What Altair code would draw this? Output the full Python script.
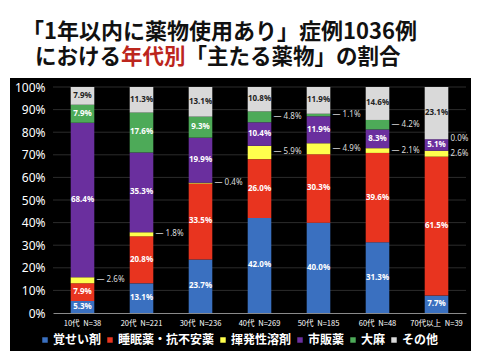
import altair as alt
import pandas as pd

ages = ["10代", "20代", "30代", "40代", "50代", "60代", "70代以上"]
ns = [38, 221, 236, 269, 185, 48, 39]
cats = ["覚せい剤", "睡眠薬・抗不安薬", "揮発性溶剤", "市販薬", "大麻", "その他"]
colors = ["#3A70C0", "#E8341F", "#FFFF4D", "#6A2F9E", "#4DAA58", "#D9D9D9"]

stimulants = [5.3, 13.1, 23.7, 42.0, 40.0, 31.3, 7.7]
sleeping = [7.9, 20.8, 33.5, 26.0, 30.3, 39.6, 61.5]
volatile = [2.6, 1.8, 0.4, 5.9, 4.9, 2.1, 2.6]
otc = [68.4, 35.3, 19.9, 10.4, 11.9, 8.3, 5.1]
cannabis = [7.9, 17.6, 9.3, 4.8, 1.1, 4.2, 0.0]
others = [7.9, 11.3, 13.1, 10.8, 11.9, 14.6, 23.1]

title1 = "「1年以内に薬物使用あり」症例1036例"
title2a = "における"
title2b = "年代別"
title2c = "「主たる薬物」の割合"

grid_vals = [0.1, 0.2, 0.3, 0.4, 0.5, 0.6, 0.7, 0.8, 0.9, 1.0]
tick_vals = [0.0] + grid_vals

series = [stimulants, sleeping, volatile, otc, cannabis, others]
labels = [f"{a}\u2002N={n}" for a, n in zip(ages, ns)]
rows = []
for ci, (c, vals) in enumerate(zip(cats, series)):
    for a, v in zip(labels, vals):
        rows.append({"age": a, "cat": c, "idx": ci, "v": v})
df = pd.DataFrame(rows)

JP = "Noto Sans CJK JP"
one = alt.Data(values=[{}])

xenc = alt.X("age:N", sort=labels, title=None,
             scale=alt.Scale(paddingInner=0.6, paddingOuter=0.3),
             axis=alt.Axis(labelAngle=0, labelColor="white", labelFont=JP,
                           labelFontSize=7.5, labelPadding=6, ticks=False,
                           domainColor="#8a8a8a", domainWidth=1, zindex=1))
yscale = alt.Scale(domain=[0, 1], nice=False)
yaxis = alt.Axis(format=".0%", values=tick_vals,
                 labelColor="white", labelFont="Noto Sans",
                 labelFontSize=12, labelPadding=8, domain=False,
                 ticks=False, grid=False, zindex=1, labelOverlap=False)

bg = alt.Chart(one).mark_rect(color="black").encode(
    x=alt.value(-43), x2=alt.value(418), y=alt.value(-9), y2=alt.value(264))

def title_text(txt, x, y, color, size=21.5):
    return alt.Chart(one).mark_text(
        text=txt, align="left", baseline="middle", font=JP, fontSize=size,
        fontWeight="bold", color=color).encode(x=alt.value(x), y=alt.value(y))

t1 = title_text(title1, -31, -55, "#111111", 22)
t2 = title_text(title2a, -18, -29, "#111111")
t3 = title_text(title2b, 68, -29, "#BC261D")
t4 = title_text(title2c, 132.5, -29, "#111111")

grid = alt.Chart(pd.DataFrame({"g": grid_vals})).mark_rule(
    color="#2c2c2c", strokeWidth=1).encode(
    y=alt.Y("g:Q", scale=yscale, title=None, axis=yaxis))

base = alt.Chart(df).transform_stack(
    stack="v", groupby=["age"], as_=["y0", "y1"], offset="normalize",
    sort=[alt.SortField("idx", order="ascending")]
).transform_calculate(
    mid="(datum.y0 + datum.y1) / 2",
    outside="datum.cat === '揮発性溶剤' || (datum.cat === '大麻' && datum.v < 5)",
    lbl="format(datum.v, '.1f') + '%'",
)

bars = base.mark_bar().encode(
    x=xenc,
    y=alt.Y("y0:Q", scale=yscale, title=None, axis=None),
    y2="y1:Q",
    color=alt.Color("cat:N", sort=cats,
                    scale=alt.Scale(domain=cats, range=colors),
                    legend=alt.Legend(
                        title=None, orient="none", legendX=-14, legendY=247,
                        direction="horizontal", columns=6,
                        symbolType="square", symbolSize=30,
                        symbolStrokeWidth=0, labelColor="white",
                        labelFont=JP, labelFontSize=12,
                        labelFontWeight="bold", columnPadding=2,
                        labelOffset=2)),
)

inside = base.transform_filter("!datum.outside").mark_text(
    font="Noto Sans", fontSize=8, fontWeight="bold", baseline="middle").encode(
    x=xenc,
    y=alt.Y("mid:Q", scale=yscale, title=None, axis=None),
    text="lbl:N",
    color=alt.condition(alt.datum.cat == "その他", alt.value("#222222"),
                        alt.value("white")),
)

last = labels[-1]
outside = base.transform_filter("datum.outside").transform_calculate(
    olbl=f"(datum.age === '{last}' ? '' : '— ') + datum.lbl"
).mark_text(font="Noto Sans", fontSize=8, align="left", baseline="middle",
            dx=14, color="#dddddd").encode(
    x=xenc,
    y=alt.Y("mid:Q", scale=yscale, title=None, axis=None),
    text="olbl:N",
)

chart = alt.layer(bg, t1, t2, t3, t4, grid, bars, inside, outside).resolve_axis(
    y="independent"
).properties(
    width=413, height=226,
    autosize=alt.AutoSizeParams(type="none"),
    padding={"left": 45, "top": 79, "right": 6, "bottom": 38},
    background="white",
).configure_view(stroke=None)

chart.save("out.html", embed_options={"renderer": "svg", "actions": False})
